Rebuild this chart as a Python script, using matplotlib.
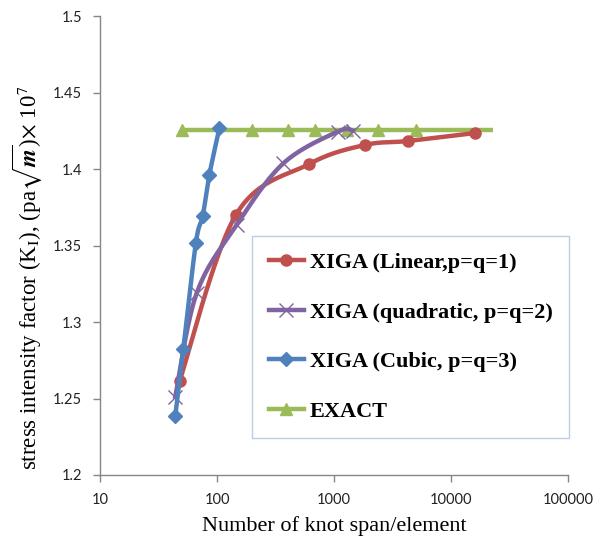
import numpy as np
import matplotlib
matplotlib.use("Agg")
import matplotlib.pyplot as plt
from matplotlib.lines import Line2D

# ---- data ----
lin_x = [48, 145, 615, 1840, 4265, 16000]
lin_y = [1.2616, 1.370, 1.4033, 1.4157, 1.4183, 1.4235]
quad_x = [44, 67, 147, 369, 1081, 1452]
quad_y = [1.2512, 1.3188, 1.3634, 1.4037, 1.4245, 1.425]
cub_x = [44, 51.5, 66, 75.5, 86, 105]
cub_y = [1.2386, 1.2822, 1.3518, 1.3693, 1.3961, 1.427]
exact_x = [50, 198, 402, 689, 1282, 2393, 5020, 23000]
exact_y = [1.4255] * 8

labels = ["XIGA (Linear,p=q=1)", "XIGA (quadratic, p=q=2)",
          "XIGA (Cubic, p=q=3)", "EXACT"]
y_ticks = [1.2, 1.25, 1.3, 1.35, 1.4, 1.45, 1.5]
y_tick_labels = ["1.2", "1.25", "1.3", "1.35", "1.4", "1.45", "1.5"]
x_ticks = [10, 100, 1000, 10000, 100000]
x_tick_labels = ["10", "100", "1000", "10000", "100000"]

RED = "#C0504D"
PURPLE = "#8064A2"
BLUE = "#4F81BD"
GREEN = "#9BBB59"

plt.rcParams['mathtext.fontset'] = 'stix'

W, H = 605, 542
fig = plt.figure(figsize=(W / 100, H / 100), dpi=100)
ax = fig.add_axes([100 / W, 1 - 475 / H, 468 / W, 459 / H])
ax.set_xscale('log')
ax.set_xlim(10, 100000)
ax.set_ylim(1.2, 1.5)


def smooth(xs, ys, n=30):
    # Excel-like smoothed line (Catmull-Rom/Bezier) computed in screen-like space
    u = (np.log10(np.asarray(xs, float)) - 1) / 4 * 468
    v = (np.asarray(ys, float) - 1.2) / 0.3 * 459
    P = np.column_stack([u, v])
    Pe = np.vstack([P[0], P, P[-1]])
    out = []
    for i in range(len(P) - 1):
        p0, p1, p2, p3 = Pe[i], Pe[i + 1], Pe[i + 2], Pe[i + 3]
        c1 = p1 + (p2 - p0) / 6
        c2 = p2 - (p3 - p1) / 6
        t = np.linspace(0, 1, n)[:, None]
        seg = ((1 - t) ** 3) * p1 + 3 * ((1 - t) ** 2) * t * c1 + 3 * (1 - t) * t ** 2 * c2 + t ** 3 * p2
        out.append(seg if i == 0 else seg[1:])
    S = np.vstack(out)
    sx = 10 ** (S[:, 0] / 468 * 4 + 1)
    sy = S[:, 1] / 459 * 0.3 + 1.2
    return sx, sy


lw = 3.2
# EXACT (bottom)
ax.plot(exact_x, exact_y, color=GREEN, lw=lw, zorder=2, solid_capstyle='butt')
ax.plot(exact_x[:-1], exact_y[:-1], ls='none', marker='^', ms=8, color=GREEN, zorder=2)
# Linear
sx, sy = smooth(lin_x, lin_y)
ax.plot(sx, sy, color=RED, lw=lw, zorder=3)
ax.plot(lin_x, lin_y, ls='none', marker='o', ms=8, color=RED, zorder=3)
# Quadratic
sx, sy = smooth(quad_x, quad_y)
ax.plot(sx, sy, color=PURPLE, lw=lw, zorder=4)
ax.plot(quad_x, quad_y, ls='none', marker='x', ms=10, mew=1.0, color=PURPLE, zorder=4)
# Cubic
sx, sy = smooth(cub_x, cub_y)
ax.plot(sx, sy, color=BLUE, lw=lw, zorder=5)
ax.plot(cub_x, cub_y, ls='none', marker='D', ms=7, color=BLUE, zorder=5)

# axes styling
for s in ['top', 'right']:
    ax.spines[s].set_visible(False)
for s in ['left', 'bottom']:
    ax.spines[s].set_color('#868686')
    ax.spines[s].set_linewidth(1.0)

ax.set_yticks(y_ticks)
ax.set_yticklabels(y_tick_labels)
ax.set_xticks(x_ticks)
ax.set_xticklabels(x_tick_labels)
ax.xaxis.set_minor_locator(matplotlib.ticker.NullLocator())
ax.tick_params(axis='both', direction='out', length=5, width=1, color='#868686',
               labelsize=10.5, pad=8)
for lab in ax.get_xticklabels() + ax.get_yticklabels():
    lab.set_family('Lato')
    lab.set_color('#222222')

fig.text(334 / W, 1 - 526 / H, "Number of knot span/element", family='Liberation Serif',
         fontsize=16, ha='center', va='center')
fig.text(28 / W, 1 - 278 / H,
         r"stress intensity factor (K$_{\mathrm{I}}$), (pa$\sqrt{\mathbfit{m}}$)$\times$ 10$^{7}$",
         family='Liberation Serif', fontsize=16.5, rotation=90, ha='center', va='center')

handles = [
    Line2D([], [], color=RED, lw=lw, marker='o', ms=8),
    Line2D([], [], color=PURPLE, lw=lw, marker='x', ms=10, mew=1.0),
    Line2D([], [], color=BLUE, lw=lw, marker='D', ms=7),
    Line2D([], [], color=GREEN, lw=lw, marker='^', ms=8),
]
leg = ax.legend(handles, labels, loc='upper left', bbox_to_anchor=(152 / 468, 1 - 220 / 459),
                frameon=True, fancybox=False, edgecolor='#B9CDE5', framealpha=1,
                prop={'family': 'Liberation Serif', 'weight': 'bold', 'size': 16},
                handlelength=1.6, handletextpad=0.25, labelspacing=1.3,
                borderpad=0.75, borderaxespad=0, numpoints=1)
leg.get_frame().set_linewidth(1.0)

fig.savefig("out.png", dpi=100)
